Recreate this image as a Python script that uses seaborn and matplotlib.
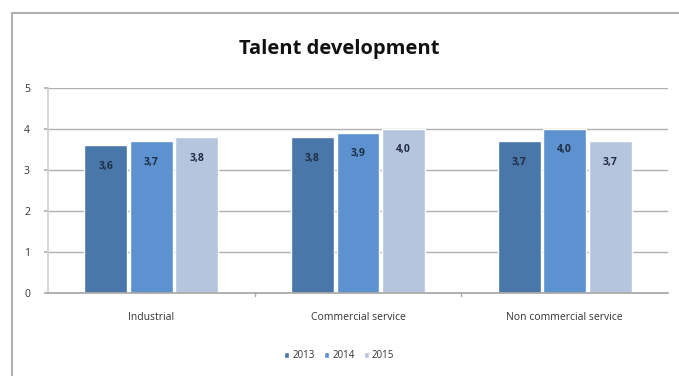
import matplotlib
matplotlib.use("Agg")
import matplotlib.pyplot as plt
from matplotlib.patches import Rectangle
import seaborn as sns
import pandas as pd

categories = ["Industrial", "Commercial service", "Non commercial service"]
years = ["2013", "2014", "2015"]
values_2013 = [3.6, 3.8, 3.7]
values_2014 = [3.7, 3.9, 4.0]
values_2015 = [3.8, 4.0, 3.7]
colors = ["#4a77aa", "#5b92cf", "#b6c5de"]

rows = []
for year, vals in zip(years, [values_2013, values_2014, values_2015]):
    for cat, v in zip(categories, vals):
        rows.append({"Sector": cat, "Year": year, "Score": v})
df = pd.DataFrame(rows)

sns.set_theme(style="white")
plt.rcParams["font.family"] = ["Open Sans", "DejaVu Sans"]

fig = plt.figure(figsize=(6.79, 3.76), dpi=100)
ax = fig.add_axes([48 / 679, 1 - 293 / 376, 620 / 679, 205 / 376])

sns.barplot(data=df, x="Sector", y="Score", hue="Year", palette=colors,
            width=0.66, gap=0.06, saturation=1, ax=ax, legend=True)

for container in ax.containers:
    labels = [f"{v:.1f}".replace(".", ",") for v in container.datavalues]
    ax.bar_label(container, labels=labels, label_type="edge", padding=-19,
                 fontsize=7.5, fontweight="bold", color="#1f2d44")

ax.set_ylim(0, 5)
ax.set_yticks(range(0, 6))
ax.yaxis.grid(True, color="#b0b0b0", linewidth=1)
ax.set_axisbelow(True)
for side in ["top", "right"]:
    ax.spines[side].set_visible(False)
ax.spines["bottom"].set_color("#a8a8a8")
ax.spines["left"].set_color("#d0d0d0")
ax.tick_params(axis="y", length=3, color="#b0b0b0", labelsize=7.5, pad=10, left=True)
ax.tick_params(axis="x", length=0, labelsize=7.5, pad=14)
for lbl in ax.get_xticklabels():
    lbl.set_color("#333333")
for lbl in ax.get_yticklabels():
    lbl.set_color("#333333")
ax.set_xlabel("")
ax.set_ylabel("")
ax.set_xlim(-0.5, 2.5)
for x in [0.5, 1.5]:
    ax.plot([x, x], [0, -0.07], color="#a8a8a8", lw=1, clip_on=False)

leg = ax.legend(loc="center", bbox_to_anchor=(0.47, 1 - (356 - 88) / 205), ncol=3,
                frameon=False, fontsize=7, handlelength=0.5, handleheight=0.5,
                handletextpad=0.3, columnspacing=1.0)
for t in leg.get_texts():
    t.set_color("#333333")

fig.text(0.5, 1 - 49 / 376, "Talent development", ha="center", va="center",
         fontsize=14.5, fontweight="bold", color="#111111")

fig.patches.append(Rectangle((12 / 679, -0.01), 1.0, 1 - 13 / 376 + 0.01,
                             transform=fig.transFigure, fill=False,
                             edgecolor="#b0b0b0", linewidth=1.5))

fig.savefig("out.png", dpi=100)
